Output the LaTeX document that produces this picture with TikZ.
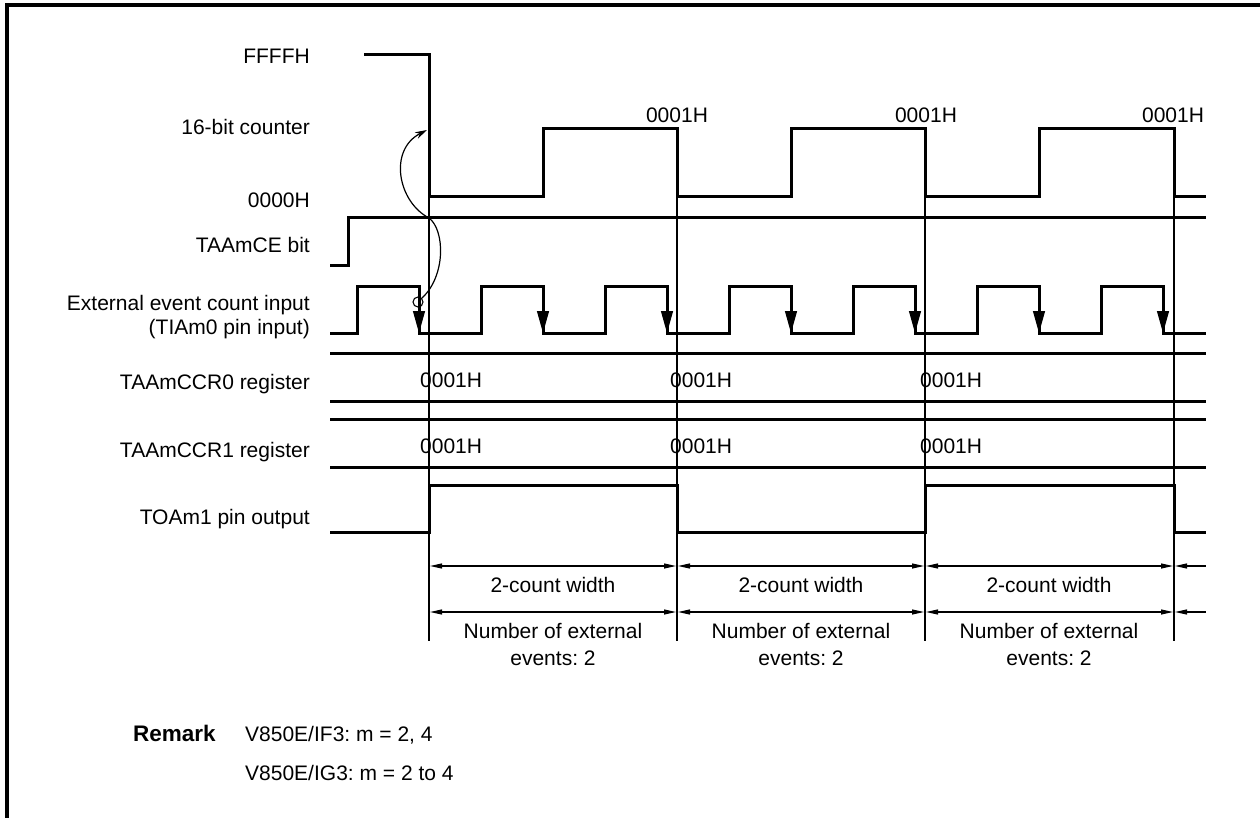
\documentclass[tikz,border=0pt]{standalone}
\usepackage{fontspec}
\setmainfont{Liberation Sans}
\usetikzlibrary{arrows.meta}
\frenchspacing
\begin{document}
\frenchspacing
\begin{tikzpicture}[x=1pt,y=-1pt,
  every node/.style={font=\fontsize{21}{25}\selectfont, inner sep=0pt},
  wave/.style={line width=3pt, line join=miter},
  thinline/.style={line width=1.2pt},
  frameline/.style={line width=4pt},
  lbl/.style={anchor=base east},
  txt/.style={anchor=base},
  txtw/.style={anchor=base west},
  evarrow/.style={line width=1.2pt, -{Triangle[length=22pt,width=12pt]}},
  dimline/.style={line width=1.1pt, {Triangle[length=12pt,width=5pt]}-{Triangle[length=12pt,width=5pt]}}
]
\useasboundingbox (0,0) rectangle (1260,818);
% frame
\draw[frameline] (7,818) -- (7,5) -- (1260,5);

% left labels
\node[lbl] (lffff) at (310,64) {FFFFH};
\node[lbl] (lcnt) at (310,135) {16-bit counter};
\node[lbl] (l0000) at (310,208) {0000H};
\node[lbl] (lce) at (310,252) {TAAmCE bit};
\node[lbl] (lext1) at (310,310) {External event count input};
\node[lbl] (lext2) at (310,334) {(TIAm0 pin input)};
\node[lbl] (lccr0) at (310,389) {TAAmCCR0 register};
\node[lbl] (lccr1) at (310,457) {TAAmCCR1 register};
\node[lbl] (ltoa) at (310,524) {TOAm1 pin output};

% thin vertical reference lines
\foreach \x in {429,677,925,1174} \draw[thinline] (\x,197) -- (\x,641);

% 16-bit counter
\draw[wave] (364,55) -- (429,55) -- (429,197) -- (543,197) -- (543,129) -- (677,129)
  -- (677,197) -- (791,197) -- (791,129) -- (925,129) -- (925,197) -- (1039,197)
  -- (1039,129) -- (1174,129) -- (1174,197) -- (1206,197);
\node[txt] (c1) at (677,123) {0001H};
\node[txt] (c2) at (926,123) {0001H};
\node[txt] (c3) at (1173,123) {0001H};

% TAAmCE bit
\draw[wave] (330,266) -- (348,266) -- (348,218) -- (1206,218);

% external event input
\draw[wave] (330,333) -- (357,333)
  foreach \k in {0,...,5} { -- ({357+124*\k},286) -- ({419+124*\k},286) -- ({419+124*\k},333) -- ({481+124*\k},333) }
  -- (1101,286) -- (1163,286) -- (1163,333) -- (1206,333);
\foreach \k in {0,...,6} \draw[evarrow] ({419+124*\k},300) -- ({419+124*\k},333);

% registers
\draw[wave] (330,353) -- (1206,353);
\draw[wave] (330,401) -- (1206,401);
\draw[wave] (330,419) -- (1206,419);
\draw[wave] (330,467) -- (1206,467);
\node[txtw] (r01) at (420,387) {0001H};
\node[txtw] (r02) at (670,387) {0001H};
\node[txtw] (r03) at (920,387) {0001H};
\node[txtw] (r11) at (420,453) {0001H};
\node[txtw] (r12) at (670,453) {0001H};
\node[txtw] (r13) at (920,453) {0001H};

% TOAm1 output
\draw[wave] (330,532) -- (429,532) -- (429,485) -- (677,485) -- (677,532) -- (925,532)
  -- (925,485) -- (1174,485) -- (1174,532) -- (1206,532);

% curved arrow
\node[circle, draw, line width=1.1pt, minimum size=10pt] (circ) at (418,302) {};
\coordinate (tip) at (427,130);
\draw[thinline, -{Stealth[length=12pt,width=7pt]}] (circ.north east) .. controls (446,276) and (445,230) .. (429,218)
  .. controls (398,202) and (388,150) .. (tip);

% dimension lines
\foreach \a/\b in {429/677,677/925,925/1174} {
  \draw[dimline] (\a+1,566) -- (\b-1,566);
  \draw[dimline] (\a+1,612) -- (\b-1,612);
}
\draw[line width=1.1pt, {Triangle[length=12pt,width=5pt]}-] (1175,566) -- (1206,566);
\draw[line width=1.1pt, {Triangle[length=12pt,width=5pt]}-] (1175,612) -- (1206,612);

\node[txt] (w1) at (553,592) {2-count width};
\node[txt] (w2) at (801,592) {2-count width};
\node[txt] (w3) at (1049,592) {2-count width};
\node[txt] (n1a) at (553,638) {Number of external};
\node[txt] (n1b) at (553,665) {events: 2};
\node[txt] (n2a) at (801,638) {Number of external};
\node[txt] (n2b) at (801,665) {events: 2};
\node[txt] (n3a) at (1049,638) {Number of external};
\node[txt] (n3b) at (1049,665) {events: 2};

% remark
\node[txtw, font=\fontsize{22.5}{26}\selectfont\bfseries] (rem) at (133,741) {Remark};
\node[txtw] (rem1) at (245,741) {V850E/IF3: m = 2, 4};
\node[txtw] (rem2) at (245,780) {V850E/IG3: m = 2 to 4};
\end{tikzpicture}
\end{document}
